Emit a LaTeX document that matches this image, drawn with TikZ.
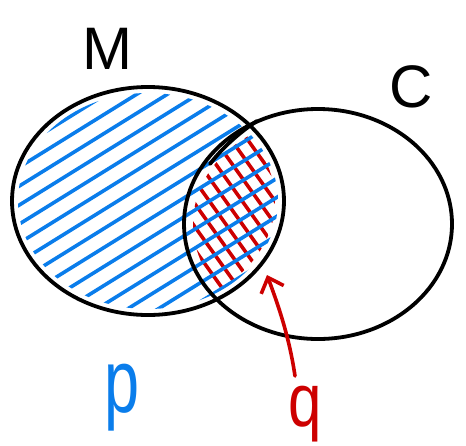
\documentclass[tikz,border=0pt]{standalone}
\usepackage{fontspec}
\setmainfont{Liberation Sans}
\usetikzlibrary{arrows.meta}
\definecolor{hblue}{RGB}{10,125,235}
\definecolor{hred}{RGB}{205,0,0}
\begin{document}
\begin{tikzpicture}[x=1pt,y=-1pt,
  outline/.style={draw=black,line width=3.8pt},
  bluehatch/.style={draw=hblue,line width=3.6pt,line cap=round},
  redhatch/.style={draw=hred,line width=3.6pt,line cap=round},
  redarrow/.style={draw=hred,line width=3.6pt,line cap=round,-{Straight Barb[length=13pt,width=24pt,line width=3.6pt]}},
  label/.style={inner sep=0pt,anchor=base,font=\fontsize{60}{60}\selectfont}]
\useasboundingbox (0,0) rectangle (466,445);
% red hatching in the intersection
\begin{scope}
  \clip (148,201) ellipse [x radius=127, y radius=106];
  \clip (318,224) ellipse [x radius=125, y radius=106];
  \foreach \d in {-230,-207,...,40}
    \draw[redhatch] (150,\d+210) -- (320,\d+448);
\end{scope}
% blue hatching in M
\begin{scope}
  \clip (148,201) ellipse [x radius=130, y radius=108];
  \foreach \c in {160,179,...,440}
    \draw[bluehatch] (0,\c) -- (300,\c-186);
\end{scope}
% outlines
\draw[outline] (148,201) ellipse [x radius=136, y radius=114];
\draw[outline] (318,224) ellipse [x radius=134, y radius=115];
\draw[outline,line cap=round] (257,121) .. controls (240,132) and (222,148) .. (210,164);
% labels
\node[label] (M) at (107,69) {M};
\node[label,text=hblue,xscale=1.05,yscale=1.5] (P) at (122,412) {p};
\node[label] (C) at (411,107) {C};
\node[label,text=hred,yscale=1.25] (Q) at (305,426) {q};
% arrow
\coordinate (arrS) at (295,376);
\coordinate (arrE) at (267,275);
\draw[redarrow] (arrS) .. controls (289,335) and (277,302) .. (arrE);
\end{tikzpicture}
\end{document}
